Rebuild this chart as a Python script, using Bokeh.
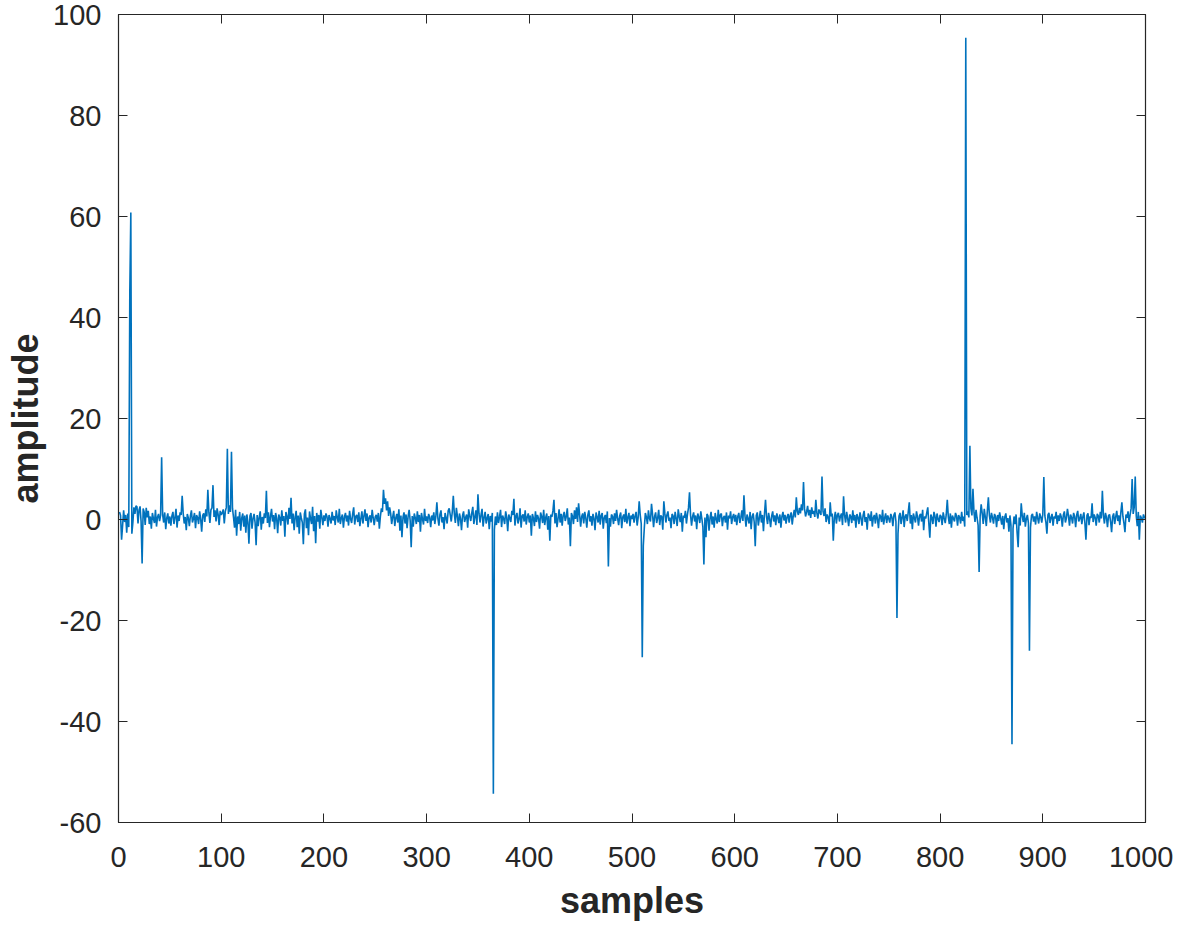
from bokeh.plotting import figure
from bokeh.models import LinearAxis, FixedTicker, Range1d
from bokeh.embed import file_html
from bokeh.resources import INLINE

# baseline noise, samples 1..1000 (50 per row)
noise_001 = [1.5, 0.8, -4.0, -1.2, 1.8, -0.5, 0.9, -2.6, 1.2, -1.5, 0, 0, -2.8, -0.6, 2.4, 1.1, 2.7, 2.5, -0.8, 1.9, 2.6, -0.4, 0, 2.2, 1.5, -1.1, 2.3, 0.4, 1.7, -0.9, 0.6, -1.8, 1.3, 0.2, -0.7, 1.9, -1.4, 0.5, 1.1, -0.3, 0.8, 0, 0.9, -0.6, 1.4, -1.9, 0.3, 1.2, -0.8, 0.6]
noise_051 = [-1.2, 0.7, 1.5, -0.9, 0.4, 2.1, -1.6, 0.8, -0.3, 1.4, 0.9, 4.7, 1.2, -0.8, 0.5, -2.1, 1.1, 0.3, -1.3, 0.7, 1.8, -0.6, 0.2, 1.3, -1.7, 0.9, 0.4, -0.9, 1.6, 0.1, -2.4, 0.8, 1.2, -0.5, 2.0, 0.6, 5.9, 1.4, -0.7, 1.9, 2.3, 6.8, 0.5, 1.8, -0.4, 2.2, 1.0, -1.1, 1.7, 0.9]
noise_101 = [1.3, 2.0, -0.8, 1.6, 2.4, 0, 1.1, 2.8, 1.5, 0, 2.2, 0.4, -1.6, 1.9, -3.2, 0.6, -0.9, 1.5, -2.2, 0.3, 1.2, -1.4, 0.8, -2.6, 1.0, -0.5, -4.8, 0.7, 1.3, -1.8, 0.2, 1.1, -0.6, -5.1, 0.9, -1.3, 0.4, 1.6, -2.0, 0.5, -0.8, 1.2, 0.3, 5.7, -0.7, 1.4, -1.5, 0.6, 2.1, -0.4]
noise_151 = [0.9, -1.9, 1.3, 0.2, -2.7, 1.0, 0.4, -1.2, 1.8, -0.3, 0.7, -3.4, 1.5, 0.6, -1.0, 2.3, 0.1, 4.3, -0.8, 1.2, -2.1, 0.5, 1.7, -1.5, 0.8, -2.8, 1.4, 0.3, -0.6, -4.9, 1.1, 2.0, -1.7, 0.4, -3.1, 1.6, 0.2, -0.9, 2.5, -2.3, 0.7, -4.7, 1.3, -0.4, 0.9, -1.8, 1.9, 0.5, -1.1, 0.8]
noise_201 = [-0.3, 1.2, 0.6, -1.4, 0.9, 0.2, -0.8, 1.5, -0.2, 0.7, -1.1, 1.8, 0.4, -0.6, 2.1, -0.9, 0.3, 1.0, -1.6, 0.5, 1.3, -0.4, 0.8, -1.2, 1.7, 0.1, -0.7, 1.1, 2.4, -1.0, 0.6, 0.9, -0.5, 1.4, -1.3, 0.2, 1.6, -0.8, 0.7, 2.0, -0.3, 1.2, -1.5, 0.4, 0.8, -0.6, 1.9, 0.3, -1.1, 0.5]
noise_251 = [0.9, -0.4, 1.3, -1.8, 0.6, 2.2, 1.5, 5.9, 3.1, 4.2, 1.8, 3.6, 0.7, 2.4, 1.2, -0.9, 0.5, 1.7, -1.3, 0.3, 1.1, -0.6, 2.0, -2.2, 0.8, -3.5, 0.4, 1.4, -0.8, 1.0, -1.7, 0.6, 1.9, -0.2, -5.5, 0.7, -1.4, 1.2, 0.3, -0.9, 1.6, -0.5, 0.9, -2.4, 1.3, 0.1, -1.0, 2.1, -0.3, 0.6]
noise_301 = [-0.7, 1.1, 0.4, -1.5, 0.8, -0.2, 1.4, -0.9, 0.6, 3.4, 0.2, -1.2, 1.0, 1.8, -0.6, 0.5, -1.9, 1.3, 0.3, -0.8, 1.7, 2.2, 0.9, -0.4, 1.5, 4.7, 1.1, -0.7, 2.3, 0.6, -1.3, 1.2, 0.2, -2.1, 0.8, 1.6, -0.5, 0.4, 1.0, -1.6, 2.0, 0.7, -0.3, 1.3, 2.5, -0.9, 0.5, 1.8, -1.1, 5.0]
noise_351 = [1.2, -0.6, 0.9, 2.1, -1.4, 0.4, 1.5, -0.8, 0.3, 1.1, -1.9, 0.7, -0.4, 1.3, 0, -2.0, 0.6, -1.1, 1.4, -0.7, 0.5, 1.9, -1.5, 0.8, 0.2, -0.9, 1.6, 0.4, -2.3, 1.0, 0.3, -0.5, 1.7, 0.9, 4.1, -1.2, 0.6, 1.3, -0.8, 0.1, 2.2, -1.6, 0.7, 1.0, -0.4, 1.8, -1.0, 0.5, 1.2, -0.6]
noise_401 = [0.8, -3.2, 1.1, 0.3, -1.3, 1.6, -0.5, 0.9, 0.2, -1.8, 1.4, 0.6, -0.7, 1.9, -1.1, 0.4, 1.2, -2.0, 0.7, -4.2, 1.0, 0.5, 1.7, 3.9, -0.8, 1.3, -1.5, 0.2, 2.0, -0.6, 1.1, -1.2, 0.8, 1.5, -0.3, 0.6, 2.2, -1.0, 0.4, -5.3, 1.3, 0.7, -0.9, 1.8, 0.1, 2.4, -0.5, 3.2, 0.9, -1.4]
noise_451 = [0.6, 1.2, -0.8, 1.5, 0.3, -1.6, 0.9, 1.8, -0.4, 0.7, -1.2, 1.1, 0.2, -2.1, 1.4, 0.5, -0.6, 1.7, -1.0, 0.8, 1.3, -1.8, 0.4, 0.9, -0.7, 1.6, 0, 0.3, -1.4, 1.0, 0.6, -0.9, 1.2, -0.3, 1.9, 0.2, -1.1, 0.7, 1.4, -1.7, 0.5, 1.0, -0.5, 2.1, -0.8, 0.4, 1.3, -1.3, 0.8, 0.1]
noise_501 = [1.1, -0.6, 0.7, 1.5, -1.2, 0.4, 3.6, 0.9, -0.8, 0, -5.2, -1.6, 1.3, 0.5, -0.9, 1.8, 0.2, -0.4, 3.1, 1.0, -1.5, 0.6, 1.4, -0.7, 0.3, 1.9, -1.1, 0.8, 0.5, -2.0, 3.6, 1.2, -0.6, 0.9, 1.6, -0.3, 0.4, -1.7, 1.1, 0.7, -0.9, 1.5, 0.2, -1.3, 2.0, 0.6, -0.5, 1.3, -2.4, 0.8]
noise_551 = [0.3, 1.7, -0.8, 1.0, 2.3, 5.4, 0.9, -1.2, 0.6, 1.4, -0.4, 0.8, -1.9, 1.2, 0.5, -0.7, 1.6, 0.2, -1.4, 0, 0.4, -3.5, 1.1, 0.7, -2.2, 0.3, 1.5, -1.0, 0.6, -1.6, 1.3, 0.1, -0.8, 1.9, -0.5, 0.9, 1.2, -1.3, 0.4, 0.7, -0.6, 1.4, -2.0, 0.8, 0.2, 1.6, -0.9, 0.5, 1.1, -0.4]
noise_601 = [0.9, -1.1, 0.6, 1.3, -0.7, 0.4, 1.8, -0.3, 4.8, 0.7, -1.4, 1.0, 0.2, -0.8, 1.5, -1.9, 0.6, 1.2, -0.5, -5.3, 0.8, 1.4, -1.2, 0.3, 1.7, -0.6, 0.9, -2.3, 1.1, 3.9, 0.5, -0.9, 1.3, 0.1, -1.5, 0.7, 1.6, -0.4, 0.8, -1.1, 1.2, 0.4, -0.7, 1.0, -1.6, 0.6, 1.5, -0.2, 0.9, -0.8]
noise_651 = [0.5, 1.1, -0.6, 0.8, 1.4, -1.0, 0.7, 1.9, 0.4, 4.4, 1.6, 0.9, 2.3, 1.2, 3.0, 1.8, 7.4, 2.1, 0.6, 1.5, 2.7, 0.8, 1.9, 0.3, 2.4, 1.1, 1.7, 0.5, 3.9, 1.3, 0.2, 2.0, 1.4, 0.9, 8.5, 1.6, 0.7, 2.2, -0.5, 1.0, 0.4, -0.9, 3.4, 0.6, 1.2, -4.2, 0.3, 1.5, -0.8, 0.9]
noise_701 = [1.3, -0.4, 0.7, 1.2, -1.1, 4.6, 0.8, -0.6, 1.5, 0.2, -1.3, 1.0, 0.6, -0.7, 1.8, -0.2, 0.9, -1.6, 1.1, 0.4, -0.9, 1.4, 0.3, -1.2, 0.8, 1.7, -0.5, 0.5, -2.0, 1.2, 0.7, -0.3, 1.6, -1.4, 0.4, 0.9, -0.8, 1.3, 0.1, -1.7, 1.0, 0.6, -0.5, 1.9, -1.0, 0.3, 1.2, -0.7, 0.8, 0.2]
noise_751 = [-0.6, 1.1, 0.5, -1.3, 0.9, 1.4, -0.4, 0, -2.8, 0.7, 1.3, -0.9, 0.4, 1.8, -1.5, 0.6, 1.0, -0.3, 1.5, 3.4, -0.8, 0.9, -1.9, 1.2, 0.3, -0.6, 1.6, 0.5, -1.2, 0.8, 1.1, -0.4, 1.9, -2.1, 0.6, 0.2, 1.3, 2.4, -0.7, -3.6, 1.0, 0.4, -0.9, 1.5, 0.7, -1.4, 1.2, 0.1, -0.5, 0.9]
noise_801 = [0.6, -1.1, 1.4, 0.3, -0.7, 1.0, 3.9, 0.5, -0.9, 1.2, -1.6, 0.8, 0.2, -0.4, 1.3, 0.7, -1.2, 0.9, 0.4, -0.8, 1.5, -0.3, 0.6, -1.4, 0, 0.9, 1.6, 0.4, 0, 2.2, 0.8, 6.1, 1.4, -0.5, 1.9, 0.3, -1.1, 0, 0.7, 3.0, 1.2, -0.9, 2.1, 0.5, -1.3, 1.7, 4.4, 0.8, -0.6, 1.3]
noise_851 = [0.4, -0.8, 1.1, 0.6, -1.5, 0.9, -0.3, 1.4, 0.2, -1.0, 0.7, -1.9, 0.5, 1.2, -0.6, 0.3, -2.4, 0.8, -1.1, 0, -1.8, 0.6, -0.9, 1.0, -2.6, -5.5, 0.4, -1.2, 3.2, 0.7, -0.5, 1.3, -1.4, 0.2, 0.9, -0.7, 0, -1.6, 0.8, 1.1, -0.4, 0.6, -1.0, 1.5, 0.3, -0.8, 1.2, 0.5, -0.6, 1.0]
noise_901 = [0, 0.7, -0.5, -2.8, 0.9, 1.3, -0.7, 0.4, 1.1, -1.2, 0.6, 0.2, 1.5, -0.9, 0.8, -0.3, 1.2, 0.5, -1.4, 0.9, 1.6, -0.6, 0.3, 2.1, 0.7, -1.2, 1.0, 0.4, -0.8, 1.3, 0.6, -1.5, 0.9, 1.7, -0.4, 0.2, 1.1, -0.9, 0.5, 1.4, -0.7, -4.0, 0.8, 1.2, -1.1, 0.6, 0.3, 3.2, -0.5, 1.0]
noise_951 = [0.4, -1.2, 1.1, 0.7, -0.6, 1.5, 0.2, 5.7, 0.9, -0.8, 1.3, 0.4, -1.5, 0.8, 1.0, -0.4, -2.5, 0.6, 1.2, -0.9, 0.5, 1.7, -0.3, 0.8, -1.1, 1.4, 3.4, 0.6, -0.7, -2.5, 1.0, 0.3, 1.6, -0.5, 0.9, 2.2, 0, 1.1, 2.4, 0, 0.7, -1.3, 1.5, -4.0, 0.8, 0.3, -0.6, 1.0, 0.4, 0.2]

# isolated spikes (sample number, amplitude)
spike_samples = [11, 12, 23, 42, 106, 110, 365, 477, 510, 570, 758, 825, 829, 838, 870, 887, 901, 987, 990]
spike_values = [45.0, 60.8, -8.7, 12.3, 14.0, 13.4, -54.3, -9.3, -27.3, -8.9, -19.5, 95.4, 14.6, -10.4, -44.5, -26.0, 8.4, 8.0, 8.5]

x_ticks = [0, 100, 200, 300, 400, 500, 600, 700, 800, 900, 1000]
y_ticks = [-60, -40, -20, 0, 20, 40, 60, 80, 100]
y_tick_labels = ["-60", "-40", "-20", "0", "20", "40", "60", "80", "100"]
x_label = "samples"
y_label = "amplitude"

signal = (noise_001 + noise_051 + noise_101 + noise_151 + noise_201 + noise_251 + noise_301 +
          noise_351 + noise_401 + noise_451 + noise_501 + noise_551 + noise_601 + noise_651 +
          noise_701 + noise_751 + noise_801 + noise_851 + noise_901 + noise_951)
for s, v in zip(spike_samples, spike_values):
    signal[s - 1] = v
samples = list(range(1, len(signal) + 1))

AX = "#262626"
FONT = "Liberation Sans"

p = figure(width=1173, height=923, output_backend="svg", toolbar_location=None,
           x_range=Range1d(0, 1000), y_range=Range1d(-60, 100),
           min_border_left=118, min_border_top=14, min_border_right=28, min_border_bottom=101)
p.background_fill_color = "white"
p.border_fill_color = "white"
p.outline_line_color = AX
p.outline_line_width = 1.2
p.grid.visible = False

p.line(samples, signal, line_color="#0072BD", line_width=1.6)

for ax, ticks in ((p.xaxis[0], x_ticks), (p.yaxis[0], y_ticks)):
    ax.ticker = FixedTicker(ticks=ticks)
    ax.major_tick_in = 9
    ax.major_tick_out = 0
    ax.minor_tick_line_color = None
    ax.axis_line_color = AX
    ax.major_tick_line_color = AX
    ax.major_label_text_color = AX
    ax.major_label_text_font = FONT
    ax.major_label_text_font_size = "29px"
    ax.axis_label_text_font = FONT
    ax.axis_label_text_font_style = "bold"
    ax.axis_label_text_font_size = "36px"
    ax.axis_label_text_color = AX

p.yaxis[0].major_label_overrides = dict(zip(y_ticks, y_tick_labels))
p.xaxis[0].axis_label = x_label
p.yaxis[0].axis_label = y_label
p.xaxis[0].major_label_standoff = 24
p.yaxis[0].major_label_standoff = 17
p.xaxis[0].axis_label_standoff = 10
p.yaxis[0].axis_label_standoff = 4

for loc, ticks in (("above", x_ticks), ("right", y_ticks)):
    a = LinearAxis(ticker=FixedTicker(ticks=ticks), major_tick_in=9, major_tick_out=0,
                   minor_tick_line_color=None, axis_line_color=AX, major_tick_line_color=AX,
                   major_label_overrides={t: "" for t in ticks}, major_label_standoff=0)
    p.add_layout(a, loc)

open("out.html", "w").write(file_html(p, INLINE))
